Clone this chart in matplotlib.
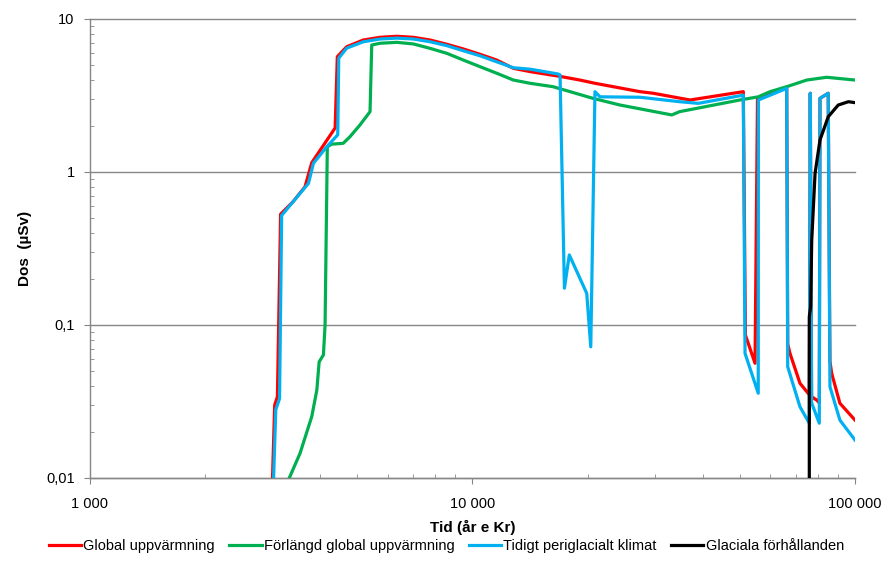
import numpy as np
import matplotlib
matplotlib.use('Agg')
import matplotlib.pyplot as plt
from matplotlib.ticker import FixedLocator, NullFormatter

plt.rcParams['font.family'] = ['Liberation Sans Narrow', 'Liberation Sans', 'DejaVu Sans']

# Global uppvärmning
red_x = [3000, 3040, 3090, 3150, 3396, 3648, 3800, 4037, 4374, 4432, 4690, 5183,
         5730, 6337, 7004, 7745, 8561, 9465, 10460, 11570, 12790, 14140, 16900,
         19090, 20900, 27400, 29700, 34800, 37050, 51050, 51700, 54780, 55600,
         66290, 66700, 67600, 71800, 75950, 76400, 77000, 79400, 80650, 81000,
         85100, 86000, 86900, 91300, 100000]
red_y = [0.01, 0.03, 0.034, 0.53, 0.64, 0.80, 1.15, 1.44, 1.94, 5.67, 6.59, 7.29,
         7.59, 7.71, 7.59, 7.29, 6.84, 6.37, 5.88, 5.39, 4.76, 4.53, 4.22,
         3.99, 3.80, 3.35, 3.27, 3.04, 2.955, 3.35, 0.086, 0.0562, 3.05,
         3.55, 0.075, 0.0653, 0.0416, 0.035, 3.27, 0.034, 0.0323, 0.031, 3.03,
         3.27, 0.058, 0.0483, 0.0308, 0.0239]

# Förlängd global uppvärmning
green_x = [3319, 3541, 3800, 3918, 3973, 4076, 4117, 4173, 4283, 4592, 4782, 5080,
           5397, 5452, 5730, 6337, 7004, 7745, 8561, 9465, 10460, 11570, 12790,
           14140, 16240, 20650, 24300, 33200, 34800, 50000, 55850, 59950, 66290,
           74800, 84300, 100000]
green_y = [0.01, 0.0145, 0.0252, 0.0376, 0.0575, 0.0637, 0.1, 1.46, 1.52, 1.54, 1.70, 2.03,
           2.48, 6.76, 6.94, 7.04, 6.87, 6.43, 5.97, 5.39, 4.88, 4.42, 3.99,
           3.80, 3.61, 3.03, 2.74, 2.36, 2.48, 2.955, 3.10, 3.35, 3.61,
           3.99, 4.16, 3.99]

# Tidigt periglacialt klimat
blue_x = [3020, 3060, 3130, 3170, 3725, 3838, 4157, 4443, 4470, 4690, 5183, 5730,
          6337, 7004, 7745, 8561, 9465, 10460, 11570, 12790, 14140, 16750, 16940,
          17390, 17910, 19890, 20380, 20900, 21540, 27400, 34800, 38950, 51050,
          51580, 55850, 55900, 66290, 66690, 71800, 75950, 76400, 77000, 80650,
          81000, 85100, 86000, 91300, 100000]
blue_y = [0.01, 0.028, 0.033, 0.52, 0.843, 1.14, 1.46, 1.75, 5.55, 6.45, 7.1, 7.4,
          7.5, 7.4, 7.1, 6.7, 6.2, 5.75, 5.25, 4.8, 4.7, 4.37, 4.31,
          0.174, 0.287, 0.161, 0.072, 3.35, 3.10, 3.08, 2.88, 2.81, 3.18,
          0.0653, 0.0358, 2.955, 3.52, 0.0533, 0.0292, 0.0228, 3.27, 0.031, 0.0228,
          3.03, 3.27, 0.0395, 0.0239, 0.0177]

# Glaciala förhållanden
black_x = [75950, 75950, 76560, 77070, 78630, 81000, 85140, 90400, 96100, 100000]
black_y = [0.009, 0.113, 0.132, 0.36, 0.98, 1.62, 2.30, 2.74, 2.88, 2.84]

labels = ['Global uppvärmning', 'Förlängd global uppvärmning',
          'Tidigt periglacialt klimat', 'Glaciala förhållanden']

fig = plt.figure(figsize=(8.84, 5.81), dpi=100)
ax = fig.add_axes([0.1018, 0.1773, 0.8654, 0.79])

lw = 2.3
ax.plot(red_x, red_y, color='#FF0000', lw=lw, label=labels[0], zorder=3)
ax.plot(green_x, green_y, color='#00B050', lw=lw, label=labels[1], zorder=3)
ax.plot(blue_x, blue_y, color='#00B0F0', lw=lw, label=labels[2], zorder=4)
ax.plot(black_x, black_y, color='black', lw=lw, label=labels[3], zorder=5)

ax.set_xscale('log')
ax.set_yscale('log')
ax.set_xlim(1000, 100000)
ax.set_ylim(0.01, 10)

ax.xaxis.set_major_locator(FixedLocator([1000, 10000, 100000]))
ax.set_xticklabels(['1 000', '10 000', '100 000'])
ax.yaxis.set_major_locator(FixedLocator([0.01, 0.1, 1, 10]))
ax.set_yticklabels(['0,01', '0,1', '1', '10'])
ax.xaxis.set_minor_formatter(NullFormatter())
ax.yaxis.set_minor_formatter(NullFormatter())

gray = '#868686'
for s in ['top', 'right']:
    ax.spines[s].set_visible(False)
for s in ['left', 'bottom']:
    ax.spines[s].set_color(gray)
    ax.spines[s].set_linewidth(1.0)

ax.tick_params(which='major', direction='out', length=4, color=gray, labelsize=10.5, pad=7)
ax.tick_params(axis='x', which='major', pad=10)
ax.tick_params(which='minor', direction='in', length=3, color=gray)
ax.grid(True, which='major', axis='y', color=gray, lw=1.0, zorder=0)
ax.set_axisbelow(True)
for gl in ax.get_ygridlines():
    gl.set_clip_on(False)

ax.set_xlabel('Tid (år e Kr)', fontsize=11, fontweight='bold', labelpad=6)
ax.set_ylabel('Dos  (µSv)', fontsize=11, fontweight='bold', labelpad=10)

fig.legend(loc='center', bbox_to_anchor=(0.505, 0.06), ncol=4, frameon=False,
           fontsize=10.5, handlelength=2.2, handletextpad=0.15, columnspacing=1.0)

plt.savefig('out.png', dpi=100, facecolor='white')
